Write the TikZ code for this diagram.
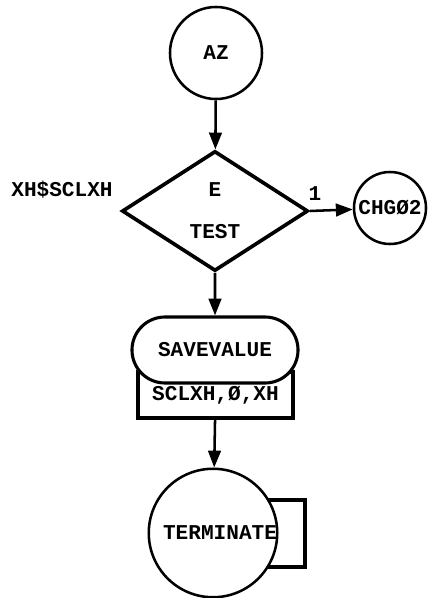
\documentclass[tikz,border=0pt]{standalone}
\usepackage{fontspec}
\setmonofont{Liberation Mono}
\usetikzlibrary{positioning, arrows.meta, shapes.geometric, shapes.misc}

\begin{document}
\begin{tikzpicture}[x=0.025cm, y=-0.025cm,
    every node/.style={font=\ttfamily\bfseries\fontsize{15}{18}\selectfont},
    blockcirc/.style={circle, draw, line width=1.8pt, fill=white, inner sep=0pt},
    blockbox/.style={rectangle, draw, line width=2.2pt, fill=white, inner sep=0pt},
    flow/.style={-{Triangle[length=12pt, width=9pt]}, line width=1.8pt}]
\useasboundingbox (0,0) rectangle (443,598);

% blocks
\node[blockcirc, minimum size=2.3cm] (az) at (216,53) {AZ};
\node[diamond, draw, line width=2.6pt, aspect=1.55, inner sep=0pt,
      minimum width=4.65cm, minimum height=3cm, align=center] (test) at (215,211) {E\\[12pt]TEST};
\node[blockcirc, minimum size=1.8cm] (chg) at (390,208) {CHGØ2};
\node (xhlabel) at (62,190) {XH\$SCLXH};

\node[blockbox, minimum width=3.875cm, minimum height=1.15cm] (ops) at (215.5,395) {\raisebox{-5pt}{SCLXH,Ø,XH}};
\node[rounded rectangle, draw, line width=2.2pt, fill=white, inner sep=0pt,
      minimum width=4.15cm, minimum height=1.65cm] (save) at (215,350) {SAVEVALUE};

\node[blockbox, minimum width=1.375cm, minimum height=1.675cm] (termbox) at (277.5,533.5) {};
\node[blockcirc, minimum size=3.2cm] (term) at (213,533) {\hspace{10pt}TERMINATE};

% connectors
\draw[flow] (az) -- (test);
\draw[flow] (test.east) -- node[pos=0.12, above=3pt] {1} (chg);
\draw[flow] (test.south) -- (save);
\draw[flow] (ops) -- (term);
\end{tikzpicture}
\end{document}
